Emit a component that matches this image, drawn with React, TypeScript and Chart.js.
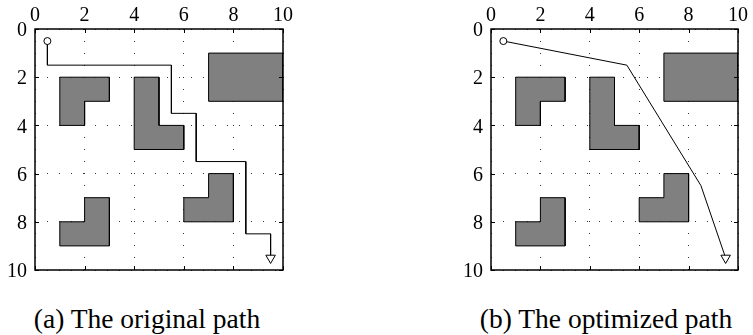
import React, { useEffect, useRef } from "react";
import { Chart, registerables } from "chart.js";

Chart.register(...registerables);

// ---- data ----
const tickValues = [0, 2, 4, 6, 8, 10];

// obstacle polygons, vertices as [x, y] (y grows downward)
const obstacleRect: number[][] = [[7, 1], [10, 1], [10, 3], [7, 3]];
const obstacleTopLeft: number[][] = [[1, 2], [3, 2], [3, 3], [2, 3], [2, 4], [1, 4]];
const obstacleMiddle: number[][] = [[4, 2], [5, 2], [5, 4], [6, 4], [6, 5], [4, 5]];
const obstacleBottomLeft: number[][] = [[1, 8], [2, 8], [2, 7], [3, 7], [3, 9], [1, 9]];
const obstacleBottomRight: number[][] = [[6, 7], [7, 7], [7, 6], [8, 6], [8, 8], [6, 8]];
const obstacles = [obstacleRect, obstacleTopLeft, obstacleMiddle, obstacleBottomLeft, obstacleBottomRight];

const originalPathX = [0.5, 0.5, 5.5, 5.5, 6.5, 6.5, 8.5, 8.5, 9.5, 9.5];
const originalPathY = [0.5, 1.5, 1.5, 3.5, 3.5, 5.5, 5.5, 8.5, 8.5, 9.5];

const optimizedPathX = [0.5, 5.5, 8.5, 9.5];
const optimizedPathY = [0.5, 1.5, 6.5, 9.5];

const captionA = "(a) The original path";
const captionB = "(b) The optimized path";

const SERIF = "Liberation Serif, DejaVu Serif, serif";

const framePlugin = {
  id: "frameTicks",
  afterDatasetsDraw(chart: any) {
    const { ctx, chartArea: a, scales } = chart;
    ctx.save();
    ctx.strokeStyle = "#000";
    ctx.lineWidth = 1.5;
    ctx.strokeRect(a.left, a.top, a.right - a.left, a.bottom - a.top);
    ctx.lineWidth = 1;
    const L = 4;
    ctx.beginPath();
    for (const t of scales.x.ticks) {
      const px = Math.round(scales.x.getPixelForValue(t.value)) + 0.5;
      ctx.moveTo(px, a.top);
      ctx.lineTo(px, a.top + L);
      ctx.moveTo(px, a.bottom);
      ctx.lineTo(px, a.bottom - L);
    }
    for (const t of scales.y.ticks) {
      const py = Math.round(scales.y.getPixelForValue(t.value)) + 0.5;
      ctx.moveTo(a.left, py);
      ctx.lineTo(a.left + L, py);
      ctx.moveTo(a.right, py);
      ctx.lineTo(a.right - L, py);
    }
    ctx.stroke();
    ctx.restore();
  },
};

function PathChart({ pathX, pathY, width, height, rightPad, bottomPad }: any) {
  const ref = useRef<HTMLCanvasElement | null>(null);
  useEffect(() => {
    if (!ref.current) return;
    const n = pathX.length;
    const datasets: any[] = [
      {
        data: pathX.map((x: number, i: number) => ({ x, y: pathY[i] })),
        showLine: true,
        fill: false,
        borderColor: "#000",
        borderWidth: 1,
        tension: 0,
        pointStyle: (c: any) => (c.dataIndex === 0 ? "circle" : "triangle"),
        pointRadius: (c: any) => (c.dataIndex === 0 ? 3.5 : c.dataIndex === n - 1 ? 5.5 : 0),
        pointRotation: (c: any) => (c.dataIndex === n - 1 ? 180 : 0),
        pointBackgroundColor: "#fff",
        pointBorderColor: "#000",
        pointBorderWidth: 1,
        order: 0,
      },
      ...obstacles.map((poly) => ({
        data: [...poly, poly[0]].map(([x, y]) => ({ x, y })),
        showLine: true,
        fill: "shape",
        backgroundColor: "#808080",
        borderColor: "#000",
        borderWidth: 1,
        pointRadius: 0,
        tension: 0,
        order: 1,
      })),
    ];
    const tickFont = { family: SERIF, size: 20 };
    const chart = new Chart(ref.current, {
      type: "scatter",
      data: { datasets },
      plugins: [framePlugin],
      options: {
        animation: false,
        responsive: false,
        events: [],
        layout: { padding: { left: 0, top: 0, right: rightPad, bottom: bottomPad } },
        plugins: { legend: { display: false }, tooltip: { enabled: false } },
        scales: {
          x: {
            type: "linear",
            position: "top",
            min: 0,
            max: 10,
            afterBuildTicks: (s: any) => {
              s.ticks = tickValues.map((v) => ({ value: v }));
            },
            afterFit: (s: any) => {
              s.height = 29;
            },
            ticks: { font: tickFont, color: "#000", padding: 1, maxRotation: 0 },
            grid: { color: "#333", lineWidth: 1, drawTicks: false },
            border: { display: false, dash: [1, 11] },
          },
          y: {
            type: "linear",
            reverse: true,
            min: 0,
            max: 10,
            afterBuildTicks: (s: any) => {
              s.ticks = tickValues.map((v) => ({ value: v }));
            },
            afterFit: (s: any) => {
              s.width = 35;
            },
            ticks: { font: tickFont, color: "#000", padding: 8, labelOffset: 2 },
            grid: { color: "#333", lineWidth: 1, drawTicks: false },
            border: { display: false, dash: [1, 11] },
          },
        },
      } as any,
    });
    return () => chart.destroy();
  }, []);
  return <canvas ref={ref} width={width} height={height} style={{ width, height, display: "block" }} />;
}

export default function App() {
  const captionStyle: React.CSSProperties = {
    position: "absolute",
    top: 305,
    width: 320,
    textAlign: "center",
    fontFamily: SERIF,
    fontSize: 27.5,
    lineHeight: "27.5px",
    color: "#000",
    whiteSpace: "nowrap",
  };
  return (
    <div style={{ position: "absolute", left: 0, top: 0, width: 753, height: 335, background: "#fff", overflow: "hidden" }}>
      <div style={{ position: "absolute", left: 0, top: 0 }}>
        <PathChart pathX={originalPathX} pathY={originalPathY} width={300} height={290} rightPad={17} bottomPad={13} />
      </div>
      <div style={{ position: "absolute", left: 456, top: 0 }}>
        <PathChart pathX={optimizedPathX} pathY={optimizedPathY} width={297} height={290} rightPad={15} bottomPad={13} />
      </div>
      <div style={{ ...captionStyle, left: 147 - 160 }}>{captionA}</div>
      <div style={{ ...captionStyle, left: 606 - 160 }}>{captionB}</div>
    </div>
  );
}
